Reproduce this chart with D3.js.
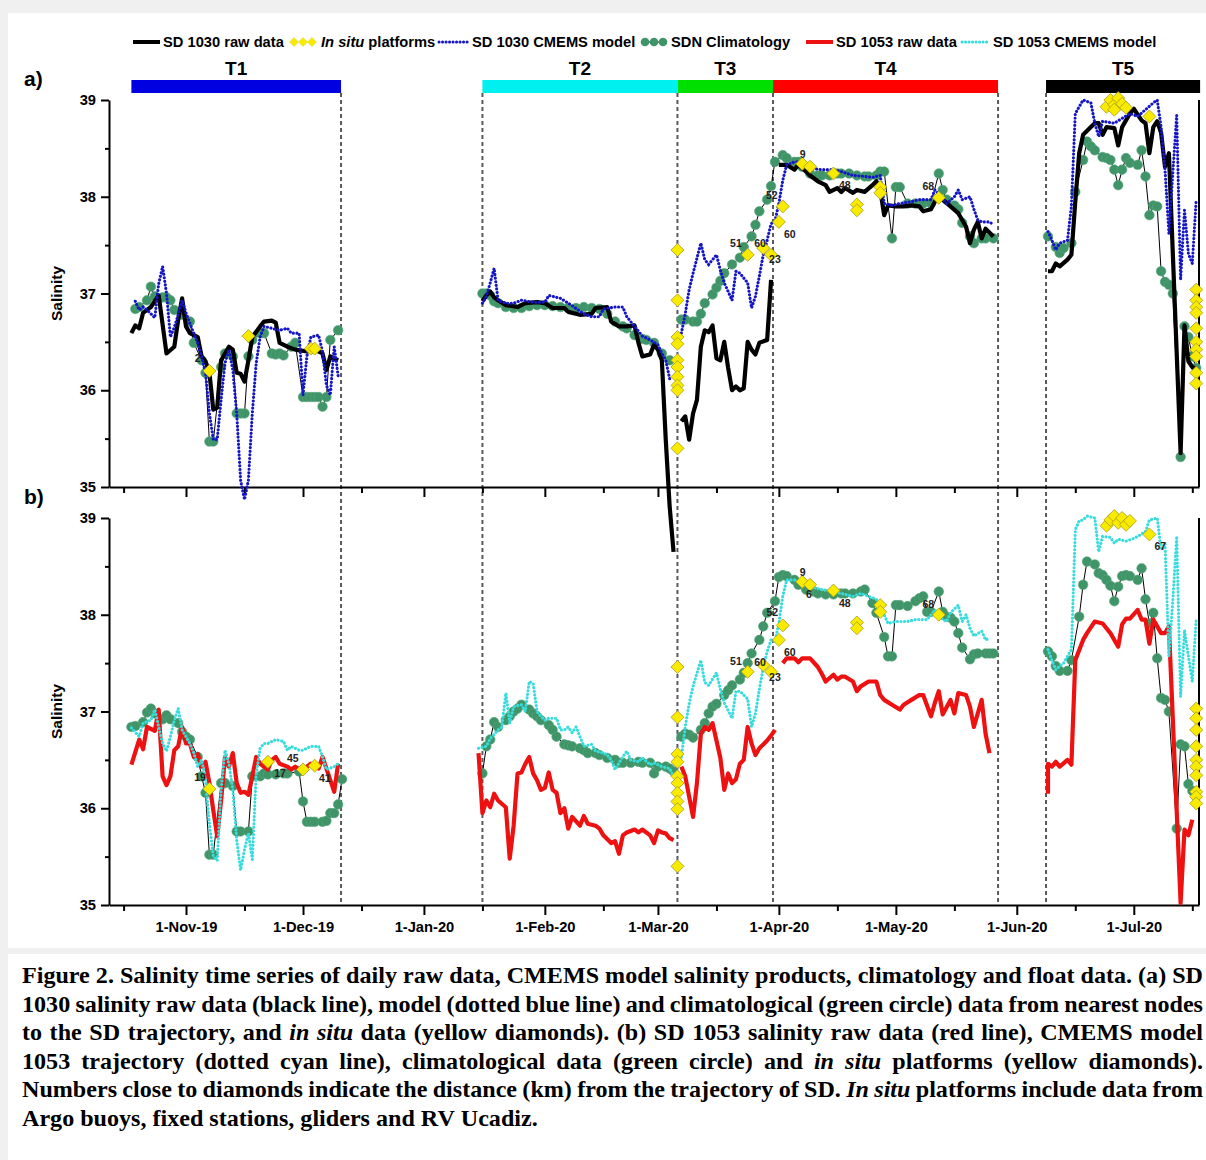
<!DOCTYPE html>
<html>
<head>
<meta charset="utf-8">
<script src="https://d3js.org/d3.v7.min.js"></script>
<style>
  body { margin: 0; background: #f0f0f0; }
  svg { display: block; }
  .axis path, .axis line { stroke: #000; stroke-width: 2; }
  .axis text { font: bold 14.7px "Liberation Sans", Arial, sans-serif; fill: #000; }
</style>
</head>
<body>
<svg id="chart" width="1206" height="1160"></svg>
<script>

// "MM-DD" (day may be fractional); Oct-Dec are 2019, the rest 2020
var md = function (s) {
  var p = s.split("-"), m = +p[0], d = +p[1];
  var yr = m >= 10 ? 2019 : 2020;
  return new Date(new Date(yr, m - 1, 1).getTime() + (d - 1) * 864e5);
};

// ---------- data ----------
var monthTicks = ["11-01","12-01","01-01","02-01","03-01","04-01","05-01","06-01","07-01"];
var midTicks = ["10-16","11-16","12-16","01-16","02-16","03-16","04-16","05-16","06-16","07-16"];
var yTicks = [35, 36, 37, 38, 39];
var yMinor = [35.5, 36.5, 37.5, 38.5];

var transectNames = ["T1", "T2", "T3", "T4", "T5"];
var transectStart = ["10-18", "01-16", "03-06", "03-30.5", "06-08.5"];
var transectEnd = ["12-10.75", "03-06", "03-30.5", "05-27.2", "07-18"];
var boundaries = ["12-10.75", "01-16", "03-06", "03-30.5", "05-27.2", "06-08.5"];

// panel a) SD 1030
var sd1030Raw = [
  ["10-18",36.59],["10-19",36.67],["10-20",36.64],["10-21",36.80],["10-23",36.86],["10-25",36.98],["10-27",36.38],["10-29",36.45],["10-30",36.73],["10-31",36.95],
  ["11-01",36.66],["11-02",36.59],["11-04",36.55],["11-05",36.35],["11-06",36.30],["11-07",36.18],["11-08",35.80],["11-09",35.82],["11-10",36.31],["11-12",36.45],
  ["11-13",36.42],["11-14",36.18],["11-15",36.17],["11-16",36.09],["11-17",36.31],["11-18",36.55],["11-20",36.66],["11-21",36.71],["11-23",36.72],["11-24",36.70],
  ["11-25",36.49],["11-27",36.45],["11-29",36.42],["12-02",36.40],["12-04",36.42],["12-06",36.38],["12-07",36.21],["12-08",36.35],["12-10",36.31], null,
  ["01-16",36.92],["01-17",36.98],["01-18",37.02],["01-19",36.96],["01-20",36.93],["01-22",36.88],["01-25",36.86],["01-27",36.90],["01-30",36.91],["02-01",36.90],
  ["02-03",36.85],["02-06",36.85],["02-07",36.81],["02-10",36.78],["02-13",36.79],["02-14",36.85],["02-17",36.86],["02-18",36.71],["02-20",36.66],["02-22",36.66],
  ["02-24",36.67],["02-25",36.49],["02-26",36.35],["02-28",36.37],["02-29",36.47],["03-01",36.42],["03-02",36.31],["03-03",35.49],["03-04",34.80],["03-05",34.33], null,
  ["03-07",35.68],["03-08",35.73],["03-09",35.49],["03-10",35.76],["03-11",35.90],["03-12",36.45],["03-13",36.62],["03-14",36.60],["03-15",36.67],["03-16",36.33],
  ["03-17",36.31],["03-18",36.50],["03-19",36.23],["03-20",36.00],["03-21",36.04],["03-22",36.00],["03-23",36.02],["03-24",36.50],["03-25",36.42],["03-26",36.37],
  ["03-27",36.49],["03-29",36.52],["03-30",37.14], null,
  ["04-01",38.33],["04-03",38.33],["04-05",38.28],["04-06",38.33],["04-08",38.26],["04-09",38.22],["04-11",38.16],["04-13",38.12],["04-14",38.05],["04-16",38.09],
  ["04-17",38.05],["04-18",38.09],["04-20",38.04],["04-21",38.07],["04-23",38.05],["04-25",38.12],["04-26",38.16],["04-27",38.07],["04-28",37.81],["04-29",37.91],
  ["05-01",37.90],["05-03",37.90],["05-05",37.91],["05-07",37.90],["05-08",37.85],["05-10",37.87],["05-11",37.95],["05-12",38.02],["05-13",37.97],["05-15",37.90],
  ["05-17",37.83],["05-18",37.76],["05-19",37.69],["05-20",37.52],["05-21",37.66],["05-22",37.74],["05-23",37.57],["05-24",37.67],["05-26",37.59], null,
  ["06-09",37.23],["06-10",37.23],["06-11",37.31],["06-12",37.28],["06-14",37.35],["06-15",37.40],["06-16",37.95],["06-17",38.45],["06-18",38.64],["06-20",38.72],
  ["06-21",38.76],["06-22",38.76],["06-23",38.64],["06-24",38.72],["06-26",38.71],["06-27",38.53],["06-28",38.72],["06-30",38.86],["07-01",38.91],["07-03",38.79],
  ["07-04",38.76],["07-05",38.45],["07-06",38.72],["07-07",38.78],["07-08",38.66],["07-09",38.31],["07-10",38.45],["07-13",35.35],["07-14",36.67],["07-15",36.30],
  ["07-16",36.24],["07-17",36.22]
];

var sd1030Model = [
  ["10-19",36.92],["10-20",36.83],["10-21",36.86],["10-22",36.83],["10-24",36.75],["10-25",37.10],["10-26",37.28],["10-27",37.00],["10-28",36.55],["10-29",36.65],
  ["10-30",36.78],["10-31",36.93],["11-01",36.80],["11-02",36.69],["11-04",36.49],["11-05",36.35],["11-06",36.18],["11-07",35.76],["11-08",35.49],["11-09",35.49],
  ["11-10",35.90],["11-11",36.28],["11-12",36.42],["11-13",36.21],["11-14",35.76],["11-15",35.07],["11-16",34.87],["11-17",35.07],["11-18",35.76],["11-19",36.28],
  ["11-20",36.55],["11-21",36.66],["11-23",36.64],["11-25",36.62],["11-27",36.64],["11-28",36.59],["11-30",36.59],["12-01",35.95],["12-02",36.35],["12-03",36.55],
  ["12-05",36.57],["12-06",36.40],["12-07",36.05],["12-08",35.95],["12-09",36.45],["12-10",36.15], null,
  ["01-16",36.90],["01-17",36.97],["01-18",37.11],["01-19",37.26],["01-20",36.93],["01-22",36.90],["01-24",36.90],["01-26",36.93],["01-29",36.91],["02-01",36.91],
  ["02-02",36.98],["02-05",36.95],["02-07",36.90],["02-11",36.79],["02-13",36.76],["02-15",36.76],["02-16",36.84],["02-19",36.86],["02-21",36.86],["02-22",36.76],
  ["02-24",36.66],["02-26",36.56],["02-28",36.52],["03-01",36.47],["03-02",36.38],["03-03",36.31],["03-04",36.12], null,
  ["03-07",36.59],["03-08",36.79],["03-09",37.04],["03-10",37.21],["03-12",37.52],["03-13",37.35],["03-14",37.30],["03-16",37.40],["03-17",37.24],["03-18",37.11],
  ["03-20",36.93],["03-21",37.23],["03-22",37.21],["03-24",37.11],["03-25",36.85],["03-26",36.97],["03-27",37.18],["03-28",37.40],["03-29",37.55],["03-30",37.72],
  ["03-31",37.75],["04-01",37.93],["04-02",38.17],["04-03",38.33],["04-05",38.36],["04-07",38.36],["04-10",38.29],["04-12",38.28],["04-15",38.28],["04-17",38.26],
  ["04-20",38.22],["04-23",38.21],["04-25",38.20],["04-27",38.22],["04-28",37.93],["04-30",37.91],["05-02",37.93],["05-05",37.95],["05-07",37.97],["05-10",37.97],
  ["05-11",38.07],["05-13",37.98],["05-14",37.93],["05-16",38.00],["05-17",38.07],["05-18",37.97],["05-20",38.00],["05-21",37.87],["05-22",37.76],["05-23",37.74],
  ["05-25",37.74],["05-26",37.71], null,
  ["06-09",37.64],["06-10",37.55],["06-11",37.45],["06-12",37.52],["06-14",37.55],["06-15",37.90],["06-16",38.86],["06-17",38.93],["06-18",39.00],["06-20",38.97],
  ["06-21",38.76],["06-22",38.62],["06-23",38.78],["06-26",38.76],["06-28",38.81],["06-30",38.86],["07-02",38.83],["07-04",38.90],["07-06",38.97],["07-07",39.00],
  ["07-08",38.72],["07-09",38.28],["07-10",37.62],["07-11",38.24],["07-12",38.84],["07-13",37.14],["07-14",37.86],["07-15",37.41],["07-16",37.31],["07-17",37.97]
];

var climA = [
  ["10-19",36.84],["10-20",36.86],["10-22",36.93],["10-23",37.07],["10-24",36.97],["10-26",36.96],["10-27",36.96],["10-28",36.93],["10-29",36.83],["10-31",36.78],
  ["11-02",36.71],["11-03",36.49],["11-05",36.31],["11-06",36.18],["11-07",35.47],["11-08",35.47],["11-10",36.24],["11-11",36.38],["11-13",36.35],["11-14",35.76],
  ["11-15",35.76],["11-16",35.76],["11-17",36.35],["11-18",36.52],["11-20",36.59],["11-21",36.59],["11-23",36.38],["11-24",36.37],["11-25",36.38],["11-26",36.36],
  ["11-28",36.45],["11-29",36.49],["12-01",35.93],["12-02",35.93],["12-03",35.93],["12-04",35.93],["12-05",35.93],["12-06",35.83],["12-07",35.93],["12-08",36.52],
  ["12-10",36.62], null,
  ["01-16",37.00],["01-17",37.00],["01-18",36.98],["01-19",36.92],["01-20",36.90],["01-22",36.86],["01-24",36.85],["01-26",36.85],["01-28",36.87],["01-30",36.88],
  ["02-01",36.88],["02-03",36.87],["02-05",36.86],["02-07",36.85],["02-09",36.85],["02-11",36.86],["02-13",36.85],["02-15",36.84],["02-17",36.79],["02-19",36.71],
  ["02-21",36.66],["02-22",36.64],["02-24",36.57],["02-26",36.53],["02-27",36.52],["02-29",36.49],["03-02",36.38],["03-04",36.31], null,
  ["03-07",36.73],["03-08",36.73],["03-10",36.71],["03-11",36.71],["03-12",36.79],["03-13",36.90],["03-15",36.99],["03-16",37.06],["03-17",37.13],["03-18",37.21],
  ["03-20",37.30],["03-22",37.37],["03-23",37.48],["03-25",37.59],["03-26",37.71],["03-27",37.85],["03-29",37.97],["03-30",38.11],["03-31",38.36],["04-02",38.43],
  ["04-03",38.40],["04-05",38.36],["04-06",38.36],["04-07",38.31],["04-09",38.24],["04-11",38.22],["04-12",38.22],["04-14",38.22],["04-16",38.24],["04-17",38.24],
  ["04-19",38.24],["04-21",38.22],["04-23",38.21],["04-24",38.21],["04-26",38.22],["04-27",38.26],["04-28",38.26],["04-30",37.57],["05-01",38.10],["05-02",38.10],
  ["05-04",37.93],["05-06",37.93],["05-08",37.93],["05-10",37.93],["05-12",38.24],["05-13",38.07],["05-14",37.97],["05-16",37.91],["05-17",37.87],["05-18",37.73],
  ["05-20",37.59],["05-21",37.52],["05-23",37.57],["05-24",37.57],["05-26",37.57], null,
  ["06-09",37.59],["06-11",37.48],["06-12",37.42],["06-13",37.47],["06-15",37.52],["06-16",38.05],["06-18",38.38],["06-19",38.57],["06-20",38.52],["06-21",38.48],
  ["06-23",38.41],["06-24",38.40],["06-25",38.38],["06-26",38.28],["06-27",38.12],["06-28",38.28],["06-29",38.40],["06-30",38.35],["07-02",38.33],["07-03",38.48],
  ["07-04",38.21],["07-05",37.81],["07-06",37.91],["07-07",37.90],["07-08",37.23],["07-09",37.12],["07-10",37.09],["07-11",37.00],["07-13",35.31],["07-14",36.66],
  ["07-15",36.55],["07-16",36.35],["07-17",36.23]
];

var insituA = [
  ["11-07",36.20],["11-17",36.56],["12-03",36.43],["12-04",36.43],
  ["03-06",37.45],["03-06",36.93],["03-06",36.55],["03-06",36.48],["03-06",36.31],["03-06",36.24],["03-06",36.14],["03-06",36.05],["03-06",36.00],["03-06",35.40],
  ["03-24",37.40],["03-28",37.47],["03-30",37.40],["04-01",37.74],["04-02",37.90],
  ["04-07",38.34],["04-09",38.31],["04-15",38.24],["04-21",37.92],["04-21",37.86],["04-27",38.10],["04-27",38.04],["05-12",37.99],
  ["06-24",38.93],["06-25",39.00],["06-26",38.95],["06-27",39.02],["06-28",38.96],["06-29",38.92],["06-26",38.90],["07-05",38.83],
  ["07-17",37.04],["07-17",36.93],["07-17",36.86],["07-17",36.80],["07-17",36.64],["07-17",36.50],["07-17",36.42],["07-17",36.35],["07-17",36.18],["07-17",36.07]
];

var distLabelsA = [
  ["11-04",36.33,"2"],["03-21",37.52,"51"],["03-27.2",37.52,"60"],["03-31",37.35,"23"],["03-30.2",38.01,"52"],
  ["04-03.8",37.61,"60"],["04-07.1",38.44,"9"],["04-17.9",38.12,"48"],["05-09.3",38.11,"68"]
];

// panel b) SD 1053
var sd1053Raw = [
  ["10-18",36.45],["10-20",36.71],["10-21",36.61],["10-22",36.84],["10-24",36.80],["10-25",37.02],["10-26",36.33],["10-27",36.24],["10-28",36.33],["10-29",36.60],
  ["10-30",36.64],["10-31",36.84],["11-01",36.67],["11-02",36.67],["11-03",36.53],["11-04",36.56],["11-05",36.43],["11-06",36.48],["11-07",36.26],["11-08",35.98],
  ["11-09",35.71],["11-10",36.08],["11-11",36.53],["11-12",36.43],["11-13",36.57],["11-14",36.26],["11-15",36.16],["11-16",36.17],["11-17",36.14],["11-18",36.33],
  ["11-19",36.53],["11-20",36.46],["11-22",36.40],["11-23",36.50],["11-24",36.53],["11-25",36.46],["11-27",36.43],["11-28",36.40],["11-29",36.43],["11-30",36.40],
  ["12-02",36.43],["12-03",36.46],["12-05",36.41],["12-06",36.53],["12-08",36.29],["12-09",36.17],["12-10",36.46], null,
  ["01-15",36.57],["01-16",35.95],["01-17",36.08],["01-18",36.01],["01-19",36.15],["01-20",36.08],["01-22",36.01],["01-23",35.48],["01-24",35.82],["01-25",36.36],
  ["01-26",36.37],["01-27",36.46],["01-28",36.53],["01-29",36.36],["01-30",36.29],["01-31",36.19],["02-01",36.21],["02-02",36.37],["02-03",36.19],["02-04",36.16],
  ["02-05",35.95],["02-06",36.00],["02-07",35.79],["02-08",35.91],["02-10",35.82],["02-11",35.92],["02-12",35.84],["02-14",35.82],["02-15",35.79],["02-16",35.72],
  ["02-18",35.64],["02-19",35.66],["02-20",35.53],["02-21",35.72],["02-22",35.75],["02-24",35.78],["02-25",35.75],["02-26",35.78],["02-28",35.72],["02-29",35.64],
  ["03-01",35.77],["03-02",35.75],["03-03",35.74],["03-04",35.69],["03-05",35.67], null,
  ["03-07",36.43],["03-08",36.33],["03-09",36.12],["03-10",35.91],["03-11",36.26],["03-12",36.77],["03-13",36.84],["03-14",36.81],["03-15",36.88],["03-16",36.70],
  ["03-17",36.52],["03-18",36.19],["03-19",36.36],["03-20",36.26],["03-21",36.30],["03-22",36.46],["03-23",36.50],["03-24",36.84],["03-25",36.67],["03-26",36.55],
  ["03-27",36.62],["03-28",36.66],["03-29",36.70],["03-30",36.75],["03-31",36.81], null,
  ["04-02",37.50],["04-03",37.55],["04-05",37.55],["04-06",37.51],["04-07",37.55],["04-09",37.55],["04-11",37.46],["04-12",37.39],["04-13",37.31],["04-15",37.38],
  ["04-16",37.33],["04-17",37.36],["04-18",37.36],["04-20",37.31],["04-21",37.21],["04-22",37.26],["04-24",37.31],["04-26",37.31],["04-27",37.17],["04-28",37.12],
  ["04-30",37.07],["05-02",37.02],["05-03",37.07],["05-05",37.12],["05-07",37.17],["05-08",37.17],["05-10",36.95],["05-11",37.09],["05-12",37.21],["05-13",36.97],
  ["05-15",37.12],["05-16",36.98],["05-17",37.19],["05-19",37.17],["05-20",37.05],["05-21",36.84],["05-23",37.12],["05-24",36.77],["05-25",36.57], null,
  ["06-09",36.15],["06-09",36.46],["06-10",36.43],["06-11",36.48],["06-12",36.43],["06-14",36.50],["06-15",36.45],["06-16",37.53],["06-18",37.74],["06-19",37.81],
  ["06-21",37.93],["06-23",37.91],["06-25",37.81],["06-27",37.67],["06-28",37.90],["06-29",37.96],["06-30",37.96],["07-02",38.05],["07-03",37.95],["07-04",37.95],
  ["07-05",37.70],["07-06",37.95],["07-07",37.88],["07-08",37.81],["07-09",37.81],["07-10",37.88],["07-13",35.02],["07-14",35.78],["07-15",35.72],["07-16",35.88]
];

var sd1053Model = [
  ["10-18",36.83],["10-20",36.74],["10-21",36.88],["10-23",36.91],["10-24",37.02],["10-25",36.84],["10-26",36.67],["10-27",36.59],["10-28",36.74],["10-29",36.91],
  ["10-30",37.03],["10-31",36.81],["11-02",36.67],["11-03",36.57],["11-04",36.43],["11-05",36.50],["11-06",36.29],["11-07",35.84],["11-08",35.50],["11-09",35.46],
  ["11-10",36.19],["11-11",36.60],["11-12",36.46],["11-13",36.19],["11-14",35.67],["11-15",35.36],["11-16",35.57],["11-17",35.74],["11-18",35.47],["11-19",36.35],
  ["11-20",36.62],["11-21",36.67],["11-22",36.67],["11-24",36.71],["11-26",36.69],["11-27",36.60],["11-28",36.64],["11-30",36.60],["12-01",36.60],["12-03",36.64],
  ["12-05",36.64],["12-06",36.53],["12-07",36.40],["12-09",36.43],["12-10",36.46], null,
  ["01-15",36.62],["01-17",36.64],["01-18",36.72],["01-20",36.81],["01-21",36.84],["01-22",37.19],["01-23",36.88],["01-24",37.05],["01-26",37.07],["01-27",37.00],
  ["01-28",37.31],["01-29",37.29],["01-30",37.00],["01-31",36.95],["02-01",36.91],["02-02",36.93],["02-04",36.93],["02-05",36.81],["02-06",36.81],["02-07",36.84],
  ["02-08",36.78],["02-09",36.84],["02-10",36.74],["02-11",36.64],["02-13",36.66],["02-14",36.59],["02-16",36.57],["02-17",36.55],["02-18",36.50],["02-19",36.40],
  ["02-21",36.53],["02-22",36.59],["02-23",36.50],["02-25",36.48],["02-26",36.52],["02-28",36.45],["02-29",36.47],["03-02",36.43],["03-04",36.41],["03-05",36.33], null,
  ["03-07",36.53],["03-08",36.84],["03-09",37.08],["03-10",37.26],["03-12",37.53],["03-13",37.30],["03-14",37.27],["03-16",37.40],["03-17",37.23],["03-18",37.09],
  ["03-20",36.93],["03-21",37.21],["03-22",37.21],["03-24",37.13],["03-25",36.84],["03-26",36.98],["03-27",37.23],["03-28",37.45],["03-29",37.62],["03-30",37.74],
  ["03-31",37.72],["04-01",37.91],["04-02",38.19],["04-03",38.36],["04-05",38.36],["04-07",38.31],["04-10",38.28],["04-12",38.26],["04-15",38.24],["04-17",38.22],
  ["04-20",38.19],["04-22",38.22],["04-24",38.19],["04-26",38.16],["04-28",38.00],["04-29",37.91],["05-01",37.93],["05-04",37.93],["05-06",37.95],["05-09",37.95],
  ["05-11",38.05],["05-12",37.98],["05-14",37.93],["05-15",38.02],["05-17",38.10],["05-18",37.93],["05-19",38.00],["05-20",37.86],["05-21",37.78],["05-23",37.83],
  ["05-24",37.74],["05-25",37.76], null,
  ["06-09",37.64],["06-10",37.53],["06-11",37.43],["06-12",37.47],["06-13",37.50],["06-15",37.64],["06-16",38.88],["06-17",38.97],["06-18",38.98],["06-19",39.02],
  ["06-21",39.00],["06-22",38.65],["06-23",38.81],["06-25",38.80],["06-26",38.74],["06-27",38.78],["06-29",38.76],["07-01",38.79],["07-02",38.81],["07-04",38.86],
  ["07-05",38.98],["07-07",39.00],["07-08",38.67],["07-09",38.74],["07-10",37.57],["07-11",38.14],["07-12",38.81],["07-13",37.15],["07-14",37.84],["07-15",37.57],
  ["07-16",37.31],["07-17",37.95]
];

var climB = [
  ["10-18",36.84],["10-19",36.85],["10-21",36.89],["10-22",36.99],["10-23",37.03],["10-24",36.98],["10-26",36.92],["10-27",36.96],["10-28",36.92],["10-30",36.88],
  ["10-31",36.79],["11-01",36.74],["11-02",36.71],["11-04",36.53],["11-05",36.33],["11-06",36.16],["11-07",35.52],["11-08",35.52],["11-10",36.26],["11-11",36.26],
  ["11-13",36.23],["11-14",35.76],["11-15",35.76],["11-17",35.76],["11-18",36.33],["11-20",36.33],["11-21",36.36],["11-22",36.35],["11-24",36.35],["11-26",36.36],
  ["11-27",36.36],["11-30",36.38],["12-01",36.07],["12-02",35.86],["12-03",35.86],["12-04",35.86],["12-06",35.86],["12-07",35.87],["12-08",35.95],["12-09",35.95],
  ["12-10",36.04],["12-11",36.30], null,
  ["01-16",36.36],["01-17",36.64],["01-18",36.71],["01-19",36.89],["01-20",36.84],["01-22",36.91],["01-23",36.95],["01-24",37.00],["01-25",37.03],["01-26",37.07],
  ["01-28",37.02],["01-29",36.98],["01-30",36.95],["01-31",36.91],["02-02",36.86],["02-03",36.81],["02-04",36.74],["02-06",36.66],["02-07",36.65],["02-08",36.64],
  ["02-10",36.62],["02-11",36.60],["02-12",36.57],["02-14",36.57],["02-15",36.55],["02-17",36.52],["02-19",36.50],["02-20",36.47],["02-21",36.47],["02-23",36.47],
  ["02-25",36.48],["02-26",36.47],["02-28",36.47],["02-29",36.36],["03-01",36.43],["03-03",36.43],["03-04",36.41],["03-05",36.38], null,
  ["03-07",36.74],["03-08",36.77],["03-09",36.76],["03-10",36.73],["03-12",36.81],["03-13",36.88],["03-14",36.98],["03-15",37.05],["03-16",37.08],["03-18",37.17],
  ["03-19",37.22],["03-20",37.27],["03-22",37.33],["03-23",37.40],["03-24",37.50],["03-25",37.60],["03-27",37.74],["03-28",37.88],["03-29",38.02],["03-31",38.14],
  ["04-01",38.39],["04-02",38.41],["04-03",38.40],["04-05",38.36],["04-06",38.31],["04-08",38.26],["04-10",38.24],["04-11",38.22],["04-13",38.21],["04-15",38.21],
  ["04-17",38.22],["04-18",38.22],["04-20",38.22],["04-22",38.24],["04-23",38.26],["04-25",38.12],["04-26",38.02],["04-28",37.77],["04-29",37.57],["04-30",37.57],
  ["05-01",38.10],["05-02",38.10],["05-04",38.09],["05-06",38.14],["05-07",38.17],["05-08",38.19],["05-09",38.03],["05-10",38.03],["05-12",38.24],["05-13",38.03],
  ["05-14",37.98],["05-15",37.97],["05-16",37.93],["05-17",37.81],["05-18",37.66],["05-20",37.54],["05-21",37.59],["05-22",37.60],["05-24",37.60],["05-25",37.60],
  ["05-26",37.60], null,
  ["06-09",37.62],["06-10",37.57],["06-11",37.47],["06-12",37.42],["06-14",37.42],["06-15",37.53],["06-17",37.98],["06-18",38.31],["06-19",38.55],["06-21",38.52],
  ["06-22",38.43],["06-23",38.41],["06-24",38.36],["06-25",38.30],["06-26",38.14],["06-27",38.29],["06-28",38.40],["06-29",38.41],["06-30",38.40],["07-02",38.36],
  ["07-03",38.48],["07-04",38.16],["07-05",37.91],["07-06",38.02],["07-07",37.55],["07-08",37.14],["07-09",37.12],["07-10",37.00],["07-12",35.79],["07-13",36.66],
  ["07-14",36.64],["07-15",36.25],["07-16",36.18]
];

var insituB = [
  ["11-07",36.20],["11-22",36.48],["12-01",36.40],["12-04",36.44],
  ["03-06",37.46],["03-06",36.94],["03-06",36.56],["03-06",36.48],["03-06",36.33],["03-06",36.26],["03-06",36.16],["03-06",36.07],["03-06",35.99],["03-06",35.40],
  ["03-24",37.41],["03-28",37.48],["03-30",37.41],["04-01",37.74],["04-02",37.89],
  ["04-07",38.34],["04-09",38.31],["04-15",38.25],["04-21",37.92],["04-21",37.86],["04-27",38.10],["04-27",38.03],["05-12",38.00],
  ["06-24",38.92],["06-25",38.98],["06-26",39.02],["06-27",38.95],["06-28",39.00],["06-29",38.93],["06-30",38.97],["07-05",38.83],
  ["07-17",37.03],["07-17",36.93],["07-17",36.81],["07-17",36.64],["07-17",36.50],["07-17",36.43],["07-17",36.34],["07-17",36.17],["07-17",36.12],["07-17",36.05]
];

var distLabelsB = [
  ["11-04.6",36.32,"19"],["11-25.1",36.36,"17"],["11-28.4",36.52,"45"],["12-06.6",36.31,"41"],
  ["03-21",37.52,"51"],["03-27.2",37.51,"60"],["03-31",37.35,"23"],["03-30.3",38.02,"52"],["04-03.8",37.61,"60"],
  ["04-07.1",38.44,"9"],["04-08.7",38.21,"6"],["04-17.9",38.12,"48"],["05-09.3",38.11,"68"],["07-07.8",38.71,"67"]
];

var captionLines = [
  "Figure 2. Salinity time series of daily raw data, CMEMS model salinity products, climatology and float data. (a) SD",
  "1030 salinity raw data (black line), model (dotted blue line) and climatological (green circle) data from nearest nodes",
  "to the SD trajectory, and *in situ* data (yellow diamonds). (b) SD 1053 salinity raw data (red line), CMEMS model",
  "1053 trajectory (dotted cyan line), climatological data (green circle) and *in situ* platforms (yellow diamonds).",
  "Numbers close to diamonds indicate the distance (km) from the trajectory of SD. *In situ* platforms include data from",
  "Argo buoys, fixed stations, gliders and RV Ucadiz."
];

// ---------- styles ----------
var barColors = ["#0000e0", "#00f0f0", "#00e000", "#ff0000", "#000000"];
var green = "#3f9468", yellow = "#f8eb00";
var sans = '"Liberation Sans", Arial, sans-serif';
var serif = '"Liberation Serif", "Times New Roman", serif';

var svg = d3.select("#chart");

// scales: fix 1-Nov-19 and 1-Jul-20, then stretch to the axis extent
var x0 = d3.scaleTime().domain([md("11-01"), md("07-01")]).range([186, 1133.8]);
var x = d3.scaleTime().domain([x0.invert(109), x0.invert(1199)]).range([109, 1199]);
var yA = d3.scaleLinear().domain([35, 39]).range([487, 100]);
var yB = d3.scaleLinear().domain([35, 39]).range([905, 518]);

// page frame
svg.append("rect").attr("width", 1206).attr("height", 1160).attr("fill", "#f0f0f0");
svg.append("rect").attr("x", 8).attr("y", 13).attr("width", 1198).attr("height", 935).attr("fill", "#fff");
svg.append("rect").attr("x", 8).attr("y", 954).attr("width", 1198).attr("height", 206).attr("fill", "#fff");

// transect separators
svg.append("g").selectAll("line").data(boundaries).enter().append("line")
  .attr("x1", function(d){ return x(md(d)); })
  .attr("x2", function(d){ return x(md(d)); })
  .attr("y1", 93).attr("y2", 905)
  .attr("stroke", "#5a5a5a").attr("stroke-width", 2).attr("stroke-dasharray", "4,3");

// transect bars
var bars = svg.append("g");
transectNames.forEach(function(name, i){
  var x1 = x(md(transectStart[i])), x2 = x(md(transectEnd[i]));
  bars.append("rect").attr("x", x1).attr("y", 80).attr("width", x2 - x1).attr("height", 13)
    .attr("fill", barColors[i]);
  bars.append("text").attr("x", (x1 + x2) / 2).attr("y", 75).attr("text-anchor", "middle")
    .style("font", "bold 19px " + sans).text(name);
});

// panel letters
svg.append("text").attr("x", 24).attr("y", 86).style("font", "bold 21px " + sans).text("a)");
svg.append("text").attr("x", 24).attr("y", 504).style("font", "bold 21px " + sans).text("b)");

// legend
var leg = svg.append("g").style("font", "bold 14.7px " + sans);
var diamond = function(s){ return "M0," + (-s) + "L" + s + ",0L0," + s + "L" + (-s) + ",0Z"; };
leg.append("line").attr("x1", 133).attr("x2", 160).attr("y1", 42).attr("y2", 42).attr("stroke", "#000").attr("stroke-width", 4);
leg.append("text").attr("x", 163).attr("y", 47).text("SD 1030 raw data");
[294, 303, 312].forEach(function(cx){
  leg.append("path").attr("d", diamond(4.5)).attr("transform", "translate(" + cx + ",42)")
    .attr("fill", yellow).attr("stroke", "#d8cc40").attr("stroke-width", 0.5);
});
var ist = leg.append("text").attr("x", 321).attr("y", 47);
ist.append("tspan").style("font-style", "italic").text("In situ");
ist.append("tspan").text(" platforms");
leg.append("line").attr("x1", 439).attr("x2", 468).attr("y1", 42).attr("y2", 42)
  .attr("stroke", "#1515c8").attr("stroke-width", 3).attr("stroke-dasharray", "0.1,3.4").attr("stroke-linecap", "round");
leg.append("text").attr("x", 472).attr("y", 47).text("SD 1030 CMEMS model");
leg.append("line").attr("x1", 645).attr("x2", 663).attr("y1", 42).attr("y2", 42).attr("stroke", "#000").attr("stroke-width", 1);
[645, 654, 663].forEach(function(cx){
  leg.append("circle").attr("cx", cx).attr("cy", 42).attr("r", 4.3).attr("fill", green);
});
leg.append("text").attr("x", 671).attr("y", 47).text("SDN Climatology");
leg.append("line").attr("x1", 806).attr("x2", 833).attr("y1", 42).attr("y2", 42).attr("stroke", "#ee1111").attr("stroke-width", 4);
leg.append("text").attr("x", 836).attr("y", 47).text("SD 1053 raw data");
leg.append("line").attr("x1", 962).attr("x2", 990).attr("y1", 42).attr("y2", 42)
  .attr("stroke", "#38dcdc").attr("stroke-width", 3).attr("stroke-dasharray", "0.1,3.4").attr("stroke-linecap", "round");
leg.append("text").attr("x", 993).attr("y", 47).text("SD 1053 CMEMS model");

// axes for one panel
var drawAxes = function(y, withLabels){
  var gy = svg.append("g").attr("class", "axis").attr("transform", "translate(109,0)");
  gy.call(d3.axisLeft(y).tickValues(yTicks).tickSize(8).tickPadding(5).tickSizeOuter(0).tickFormat(d3.format("d")));
  svg.append("g").attr("class", "axis").attr("transform", "translate(109,0)")
    .call(d3.axisLeft(y).tickValues(yMinor).tickSize(4).tickFormat(""))
    .select(".domain").remove();

  var gx = svg.append("g").attr("class", "axis").attr("transform", "translate(0," + y(35) + ")");
  gx.call(d3.axisBottom(x).tickValues(monthTicks.map(md)).tickSize(10).tickPadding(7).tickSizeOuter(0)
    .tickFormat(withLabels ? d3.timeFormat("%-d-%b-%y") : ""));
  svg.append("g").attr("class", "axis").attr("transform", "translate(0," + y(35) + ")")
    .call(d3.axisBottom(x).tickValues(midTicks.map(md)).tickSize(6).tickFormat(""))
    .select(".domain").remove();

  // right frame line
  svg.append("line").attr("x1", 1199).attr("x2", 1199).attr("y1", y(39)).attr("y2", y(35))
    .attr("stroke", "#000").attr("stroke-width", 2);

  svg.append("text")
    .attr("transform", "translate(62," + ((y(35) + y(39)) / 2) + ") rotate(-90)")
    .attr("text-anchor", "middle").style("font", "bold 15.5px " + sans).text("Salinity");
};

// data for one panel
var drawPanel = function(y, clim, raw, rawColor, model, modelColor, insitu, labels){
  var line = d3.line().defined(function(d){ return d; })
    .x(function(d){ return x(md(d[0])); })
    .y(function(d){ return y(d[1]); });
  var g = svg.append("g");

  g.append("path").attr("d", line(clim)).attr("fill", "none").attr("stroke", "#000").attr("stroke-width", 1);
  g.selectAll("circle").data(clim.filter(Boolean)).enter().append("circle")
    .attr("cx", function(d){ return x(md(d[0])); })
    .attr("cy", function(d){ return y(d[1]); })
    .attr("r", 4.8).attr("fill", green).attr("stroke", "#57a67c").attr("stroke-width", 0.6);

  g.append("path").attr("d", line(raw)).attr("fill", "none")
    .attr("stroke", rawColor).attr("stroke-width", 4.2).attr("stroke-linejoin", "round");

  g.append("path").attr("d", line(model)).attr("fill", "none")
    .attr("stroke", modelColor).attr("stroke-width", 3.1)
    .attr("stroke-dasharray", "0.1,3.5").attr("stroke-linecap", "round");

  g.selectAll(".ins").data(insitu).enter().append("path").attr("class", "ins")
    .attr("d", diamond(6.5))
    .attr("transform", function(d){ return "translate(" + x(md(d[0])) + "," + y(d[1]) + ")"; })
    .attr("fill", yellow).attr("stroke", "#a89a20").attr("stroke-width", 0.8);

  g.selectAll(".lab").data(labels).enter().append("text").attr("class", "lab")
    .attr("x", function(d){ return x(md(d[0])); })
    .attr("y", function(d){ return y(d[1]); })
    .attr("dy", "0.35em").attr("text-anchor", "middle")
    .style("font", "bold 10.5px " + sans).attr("fill", "#222")
    .text(function(d){ return d[2]; });
};

drawAxes(yA, false);
drawAxes(yB, true);
drawPanel(yA, climA, sd1030Raw, "#000", sd1030Model, "#1515c8", insituA, distLabelsA);
drawPanel(yB, climB, sd1053Raw, "#ee1111", sd1053Model, "#38dcdc", insituB, distLabelsB);

// caption, justified word by word
var cap = svg.append("g").style("font", "bold 24.1px " + serif).attr("fill", "#000");
var capLeft = 22, capRight = 1203, capBase = 983, capStep = 28.5;
captionLines.forEach(function(str, li){
  var italic = false, words = [];
  str.split(" ").forEach(function(w){
    var it = italic;
    if (w.charAt(0) === "*") { it = true; italic = true; w = w.slice(1); }
    if (w.charAt(w.length - 1) === "*") { w = w.slice(0, -1); italic = false; }
    words.push({ t: w, i: it });
  });
  var nodes = words.map(function(w){
    var t = cap.append("text").attr("y", capBase + li * capStep).text(w.t);
    if (w.i) t.style("font-style", "italic");
    return t;
  });
  var widths = nodes.map(function(n){ return n.node().getComputedTextLength(); });
  var total = d3.sum(widths);
  var last = li === captionLines.length - 1;
  var gap = last ? 6 : (capRight - capLeft - total) / (words.length - 1);
  var cx = capLeft;
  nodes.forEach(function(n, k){
    n.attr("x", cx);
    cx += widths[k] + gap;
  });
});

</script>
</body>
</html>
